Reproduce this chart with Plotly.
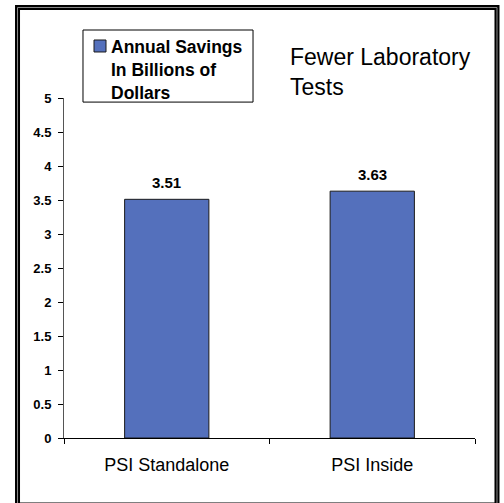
import plotly.graph_objects as go

categories = ["PSI Standalone", "PSI Inside"]
savings = [3.51, 3.63]
y_ticks = [0, 0.5, 1, 1.5, 2, 2.5, 3, 3.5, 4, 4.5, 5]
series_name = "Annual Savings<br>In Billions of<br>Dollars"
title_text = "Fewer Laboratory<br>Tests"

FONT = "Arial, Liberation Sans, sans-serif"
BAR_COLOR = "#5470BC"

fig = go.Figure(go.Bar(
    x=categories, y=savings, name=series_name,
    marker=dict(color=BAR_COLOR, line=dict(color="#1a1a1a", width=1)),
    width=0.41, showlegend=False,
))

# value labels above bars
for c, v in zip(categories, savings):
    fig.add_annotation(x=c, y=v, text=f"<b>{v:.2f}</b>", showarrow=False,
                       yanchor="bottom", yshift=6,
                       font=dict(family=FONT, size=15, color="black"))

# title block
fig.add_annotation(xref="paper", yref="paper", x=0.545, y=1.164,
                   xanchor="left", yanchor="top", align="left",
                   text=title_text, showarrow=False,
                   font=dict(family=FONT, size=23, color="black"))

# legend drawn by hand (box, swatch, text)
fig.add_shape(type="rect", xref="paper", yref="paper",
              x0=0.0462, x1=0.4599, y0=0.988, y1=1.2,
              line=dict(color="black", width=1), fillcolor="white")
fig.add_shape(type="rect", xref="paper", yref="paper",
              x0=0.073, x1=0.1022, y0=1.1353, y1=1.1706,
              line=dict(color="#1a1a1a", width=1), fillcolor=BAR_COLOR)
fig.add_annotation(xref="paper", yref="paper", x=0.1095, y=1.185,
                   xanchor="left", yanchor="top", align="left",
                   text=f"<b>{series_name}</b>", showarrow=False,
                   font=dict(family=FONT, size=17.5, color="black"))

# double frame around the chart
fig.add_shape(type="rect", xref="paper", yref="paper",
              x0=-0.1131, x1=1.0535, y0=-0.197, y1=1.2662,
              line=dict(color="black", width=5))
fig.add_shape(type="rect", xref="paper", yref="paper",
              x0=-0.1131, x1=1.0535, y0=-0.197, y1=1.2662,
              line=dict(color="#8a8a8a", width=1))

fig.update_layout(
    width=504, height=503,
    margin=dict(l=64, r=29, t=98, b=65),
    plot_bgcolor="white", paper_bgcolor="white",
    font=dict(family=FONT, color="black"),
    showlegend=False,
    bargap=0.59,
    xaxis=dict(showline=True, linecolor="black", linewidth=1,
               ticks="outside", tickson="boundaries", ticklen=5, tickcolor="black",
               tickfont=dict(family=FONT, size=18, color="black"),
               ticklabelstandoff=10, showgrid=False, zeroline=False),
    yaxis=dict(range=[0, 5], tickvals=y_ticks, ticktext=[f"{t:g}" for t in y_ticks],
               showline=True, linecolor="#555", linewidth=1,
               ticks="outside", ticklen=5, tickcolor="black",
               tickfont=dict(family=FONT, size=13, color="black", weight="bold"),
               ticklabelstandoff=4, showgrid=False, zeroline=False),
)

fig.write_html("out.html", config={"displayModeBar": False},
               post_script="document.body.style.margin='0';")
